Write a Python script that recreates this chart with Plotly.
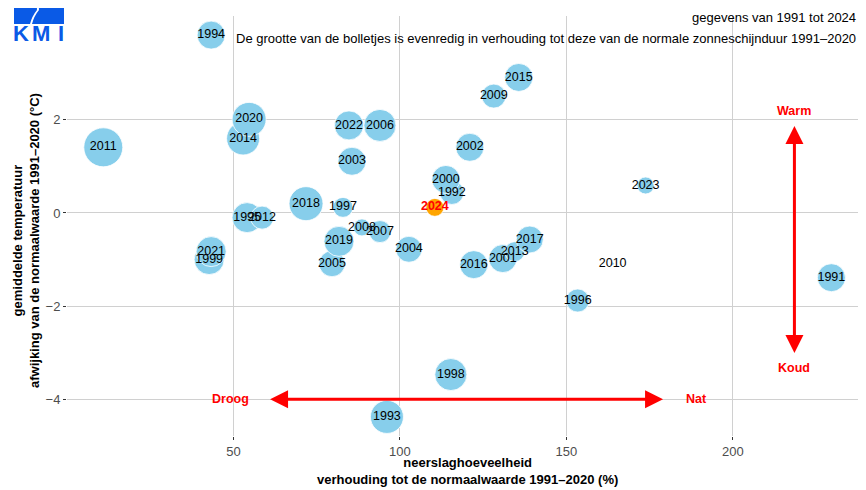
import plotly.graph_objects as go
import math

# ---- data ----
jaren = [1991, 1992, 1993, 1994, 1995, 1996, 1997, 1998, 1999, 2000,
         2001, 2002, 2003, 2004, 2005, 2006, 2007, 2008, 2009, 2010,
         2011, 2012, 2013, 2014, 2015, 2016, 2017, 2018, 2019, 2020,
         2021, 2022, 2023, 2024]
neerslag = [229.6, 115.6, 96.1, 43.3, 54.1, 153.4, 82.9, 115.3, 42.7, 113.8,
            130.9, 121.0, 85.6, 102.7, 79.6, 94.0, 94.0, 88.6, 128.2, 163.9,
            10.9, 58.6, 134.5, 52.9, 135.7, 122.2, 139.0, 71.8, 81.7, 54.7,
            43.3, 84.7, 173.8, 110.5]
temperatuur = [-1.39, 0.44, -4.38, 3.82, -0.10, -1.88, 0.12, -3.47, -1.00, 0.72,
               -0.98, 1.41, 1.11, -0.78, -1.09, 1.88, -0.40, -0.31, 2.51, -1.09,
               1.41, -0.10, -0.83, 1.60, 2.91, -1.11, -0.57, 0.20, -0.61, 2.01,
               -0.83, 1.88, 0.59, 0.12]
zonneschijn = [105.5, 100.0, 113.6, 105.5, 108.6, 98.8, 95.3, 111.9, 108.6, 105.5,
               105.5, 105.5, 105.5, 102.6, 102.6, 111.9, 97.6, 92.4, 100.0, 85.0,
               125.0, 98.8, 95.3, 113.6, 105.5, 105.5, 104.0, 115.3, 108.6, 115.3,
               108.6, 107.0, 92.4, 93.3]
x_ticks = [50, 100, 150, 200]
y_ticks = [-4, -2, 0, 2]
huidig_jaar = 2024

# ---- size scale (area linear in sunshine) ----
dmin, dmax = 3.0, 39.0
vmin, vmax = min(zonneschijn), max(zonneschijn)
diam = [math.sqrt(dmin**2 + (dmax**2 - dmin**2) * (v - vmin) / (vmax - vmin)) for v in zonneschijn]
kleuren = ["#FFA500" if j == huidig_jaar else "#87CEEB" for j in jaren]

FONT = "Liberation Sans, Arial, Helvetica, sans-serif"

fig = go.Figure()
fig.add_trace(go.Scatter(
    x=neerslag, y=temperatuur, mode="markers",
    marker=dict(size=diam, sizemode="diameter", color=kleuren, opacity=1,
                line=dict(color="white", width=0.8)),
    hoverinfo="skip", cliponaxis=False, showlegend=False))

idx_n = [i for i, j in enumerate(jaren) if j != huidig_jaar]
idx_h = [i for i, j in enumerate(jaren) if j == huidig_jaar]
fig.add_trace(go.Scatter(
    x=[neerslag[i] for i in idx_n], y=[temperatuur[i] for i in idx_n],
    text=[str(jaren[i]) for i in idx_n], mode="text", textposition="middle center",
    textfont=dict(family=FONT, size=12.5, color="black"),
    hoverinfo="skip", cliponaxis=False, showlegend=False))
fig.add_trace(go.Scatter(
    x=[neerslag[i] for i in idx_h], y=[temperatuur[i] for i in idx_h],
    text=[str(jaren[i]) for i in idx_h], mode="text", textposition="middle center",
    textfont=dict(family=FONT, size=12.5, color="red", weight="bold"),
    hoverinfo="skip", cliponaxis=False, showlegend=False))

# page offset (body margin of the html page)
OFF = 8
# plot-area geometry in page pixels
PL, PR, PT, PB = 67, 866, 16, 436
W, H = 866 - OFF, 490 - OFF
L, T = PL - OFF, PT - OFF
R = (866 - OFF) - (PR - OFF)
B = H - (PB - OFF)
pw, ph = PR - PL, PB - PT

def px(xp):
    return (xp - PL) / pw

def py(yp):
    return (PB - yp) / ph

annotations = []
# double arrows
annotations.append(dict(x=61, y=-4, ax=179.5, ay=-4, xref="x", yref="y", axref="x", ayref="y",
                        text="", showarrow=True, arrowcolor="red", arrowwidth=3,
                        arrowhead=2, arrowsize=1.2, startarrowhead=2, startarrowsize=1.2,
                        arrowside="end+start", standoff=0, startstandoff=0))
annotations.append(dict(x=218.5, y=1.87, ax=218.5, ay=-3.04, xref="x", yref="y", axref="x", ayref="y",
                        text="", showarrow=True, arrowcolor="red", arrowwidth=3,
                        arrowhead=2, arrowsize=1.2, startarrowhead=2, startarrowsize=1.2,
                        arrowside="end+start", standoff=0, startstandoff=0))
for txt, xx, yy in [("Droog", 49.1, -4.0), ("Nat", 189.0, -4.0), ("Warm", 218.3, 2.18), ("Koud", 218.3, -3.34)]:
    annotations.append(dict(x=xx, y=yy, xref="x", yref="y", text=txt, showarrow=False,
                            font=dict(family=FONT, size=12.5, color="red", weight="bold"),
                            xanchor="center", yanchor="middle"))

# titles
annotations.append(dict(x=px(858), y=py(18), xref="paper", yref="paper", text="gegevens van 1991 tot 2024",
                        showarrow=False, xanchor="right", yanchor="middle",
                        font=dict(family=FONT, size=13, color="black")))
annotations.append(dict(x=px(858), y=py(38), xref="paper", yref="paper",
                        text="De grootte van de bolletjes is evenredig in verhouding tot deze van de normale zonneschijnduur 1991\u20132020",
                        showarrow=False, xanchor="right", yanchor="middle",
                        font=dict(family=FONT, size=13, color="black")))
# axis titles
annotations.append(dict(x=px(467), y=py(471), xref="paper", yref="paper",
                        text="<b>neerslaghoeveelheid</b><br><b>verhouding tot de normaalwaarde 1991\u20132020 (%)</b>",
                        showarrow=False, xanchor="center", yanchor="middle",
                        font=dict(family=FONT, size=13, color="black")))
annotations.append(dict(x=px(26), y=py(241), xref="paper", yref="paper", textangle=-90,
                        text="<b>gemiddelde temperatuur</b><br><b>afwijking van de normaalwaarde 1991\u20132020 (\u00b0C)</b>",
                        showarrow=False, xanchor="center", yanchor="middle",
                        font=dict(family=FONT, size=13, color="black")))
# logo text
for ch, xc in [("K", 20.5), ("M", 41), ("I", 60.5)]:
    annotations.append(dict(x=px(xc), y=py(33.5), xref="paper", yref="paper", text=ch,
                            showarrow=False, xanchor="center", yanchor="middle",
                            font=dict(family=FONT, size=22, color="#0a5ae6", weight="bold")))

shapes = [
    dict(type="rect", xref="paper", yref="paper", x0=px(14), x1=px(64), y0=py(24), y1=py(0),
         fillcolor="#0a5ae6", line=dict(width=0), layer="above"),
    dict(type="path", xref="paper", yref="paper", layer="above",
         path=f"M {px(44)},{py(0)} Q {px(36)},{py(6)} {px(37)},{py(10)} Q {px(32)},{py(16)} {px(30)},{py(24)} "
              f"L {px(32)},{py(24)} Q {px(34)},{py(16)} {px(39)},{py(10)} Q {px(38)},{py(5)} {px(46)},{py(0)} Z",
         fillcolor="white", line=dict(width=0)),
]

fig.update_layout(
    width=W, height=H, margin=dict(l=L, r=R, t=T, b=B, pad=0),
    paper_bgcolor="white", plot_bgcolor="white",
    font=dict(family=FONT, size=13, color="#4d4d4d"),
    annotations=annotations, shapes=shapes, showlegend=False,
    xaxis=dict(range=[0, 240], tickvals=x_ticks, showgrid=True, gridcolor="#d0d0d0", gridwidth=1,
               zeroline=False, showline=False, ticks="outside", ticklen=3, tickcolor="#333333",
               tickfont=dict(family=FONT, size=13, color="#4d4d4d")),
    yaxis=dict(range=[-4.79, 4.23], tickvals=y_ticks, showgrid=True, gridcolor="#d0d0d0", gridwidth=1,
               zeroline=False, showline=False, ticks="outside", ticklen=3, tickcolor="#333333",
               tickfont=dict(family=FONT, size=13, color="#4d4d4d")),
)

fig.write_html("out.html")
